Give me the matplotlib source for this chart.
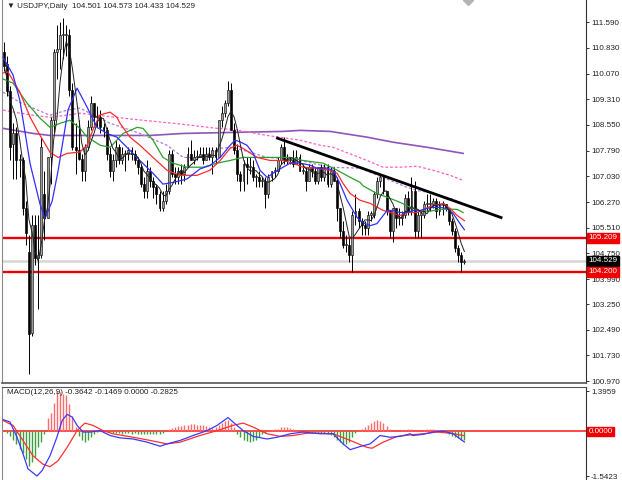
import matplotlib
matplotlib.use('Agg')
import numpy as np
import pandas as pd
import matplotlib.pyplot as plt
import matplotlib.transforms as mtrans

plt.rcParams['font.family'] = ['Liberation Sans', 'DejaVu Sans']

# daily bars, USDJPY
opens = [110.70, 110.35, 109.55, 108.00, 108.30, 107.50, 107.50, 106.10, 104.80, 102.40,
         105.60, 104.60, 104.70, 106.50, 105.80, 107.60, 108.70, 110.70, 110.80, 111.20,
         111.20, 111.20, 109.60, 107.90, 107.80, 107.55, 107.20, 107.90, 108.50, 109.20,
         108.80, 108.80, 108.50, 108.40, 107.70, 107.20, 107.50, 107.90, 107.50, 107.70,
         107.70, 107.80, 107.70, 107.50, 107.30, 106.80, 106.60, 107.20, 106.90, 106.70,
         106.50, 106.10, 106.30, 106.60, 107.70, 107.10, 107.00, 107.20, 107.10, 107.30,
         107.70, 107.50, 107.60, 107.60, 107.70, 107.50, 107.70, 107.60, 107.80, 107.60,
         108.70, 108.90, 109.20, 109.60, 108.40, 107.80, 107.10, 106.90, 107.40, 107.30,
         107.30, 107.00, 107.00, 106.90, 106.90, 106.50, 107.00, 107.20, 107.20, 107.50,
         107.90, 107.50, 107.50, 107.50, 107.40, 107.60, 107.20, 107.20, 106.90, 107.30,
         107.20, 106.90, 107.30, 107.00, 107.30, 106.80, 107.20, 106.90, 106.10, 105.40,
         105.00, 105.00, 104.70, 105.90, 106.00, 105.70, 105.60, 105.50, 105.90, 105.90,
         106.50, 106.90, 107.00, 106.60, 106.00, 105.40, 106.10, 105.80, 105.80, 105.90,
         106.40, 106.00, 106.60, 105.40, 105.90, 105.90, 106.20, 106.20, 106.20, 106.30,
         106.00, 106.20, 106.20, 106.10, 105.70, 105.40, 104.90, 104.70, 104.501]
highs = [111.00, 110.60, 109.70, 108.60, 108.50, 107.70, 107.60, 106.30, 105.30, 105.90,
         105.90, 105.90, 108.20, 107.20, 107.60, 108.80, 110.80, 111.50, 111.60, 111.71,
         111.50, 111.40, 109.80, 108.60, 108.70, 107.70, 108.00, 108.70, 109.40, 109.20,
         109.10, 109.00, 108.60, 108.50, 107.90, 107.70, 108.10, 108.00, 107.90, 107.80,
         107.90, 107.90, 107.80, 107.60, 107.40, 107.00, 107.50, 107.30, 107.00, 106.80,
         106.60, 106.60, 106.80, 107.80, 107.80, 107.30, 107.30, 107.40, 107.40, 107.90,
         108.10, 107.80, 107.80, 107.90, 107.90, 107.90, 107.90, 107.90, 107.90, 108.70,
         109.10, 109.30, 109.85, 109.80, 108.60, 108.00, 107.20, 107.50, 107.60, 107.60,
         107.50, 107.10, 107.20, 107.00, 107.00, 107.10, 107.20, 107.30, 107.60, 108.00,
         108.20, 107.70, 107.60, 107.80, 107.80, 107.70, 107.40, 107.30, 107.40, 107.40,
         107.30, 107.30, 107.40, 107.40, 107.40, 107.30, 107.30, 107.00, 106.10, 105.70,
         105.30, 105.20, 106.00, 106.50, 106.10, 105.80, 105.70, 106.00, 106.00, 106.60,
         107.00, 107.10, 107.00, 106.60, 106.00, 106.10, 106.10, 106.10, 106.00, 106.50,
         106.60, 107.00, 106.90, 106.00, 106.00, 106.30, 106.50, 106.50, 106.40, 106.40,
         106.30, 106.30, 106.20, 106.10, 105.80, 105.50, 105.00, 104.80, 104.573]
lows = [110.15, 109.40, 107.50, 106.95, 106.95, 107.00, 105.90, 105.00, 101.18, 102.30,
        104.40, 103.10, 104.60, 105.15, 105.80, 106.80, 108.30, 109.90, 110.20, 110.50,
        110.60, 109.40, 107.80, 107.10, 107.50, 106.90, 106.90, 107.80, 108.40, 108.50,
        108.50, 108.30, 108.20, 107.50, 107.00, 106.90, 107.30, 107.40, 107.40, 107.20,
        107.50, 107.50, 107.40, 107.10, 106.70, 106.40, 106.40, 106.70, 106.40, 106.20,
        105.99, 106.00, 106.20, 106.50, 107.00, 106.80, 106.80, 106.80, 106.90, 107.30,
        107.50, 107.40, 107.50, 107.60, 107.40, 107.50, 107.50, 107.10, 107.40, 107.60,
        108.50, 108.80, 109.10, 108.40, 107.70, 106.90, 106.60, 106.60, 106.80, 107.10,
        106.90, 106.70, 106.70, 106.70, 106.10, 106.40, 106.90, 107.00, 107.20, 107.40,
        107.40, 107.40, 107.40, 107.30, 107.40, 107.20, 107.10, 106.60, 106.90, 107.00,
        106.80, 106.80, 106.90, 106.90, 106.70, 106.70, 106.90, 105.70, 105.20, 104.90,
        104.80, 104.50, 104.19, 105.60, 105.50, 105.30, 105.30, 105.30, 105.70, 105.80,
        106.40, 106.70, 106.50, 105.90, 105.20, 105.10, 105.50, 105.60, 105.60, 105.80,
        105.90, 105.90, 105.20, 105.20, 105.20, 105.80, 106.00, 106.00, 106.10, 105.80,
        105.90, 105.90, 106.00, 105.60, 105.30, 104.80, 104.50, 104.20, 104.433]
closes = [110.30, 109.55, 107.90, 108.30, 107.50, 107.50, 106.10, 105.35, 102.35, 105.60,
          104.60, 104.70, 107.90, 105.80, 107.60, 108.70, 110.70, 110.80, 111.20, 111.20,
          111.20, 109.60, 107.90, 107.80, 107.55, 107.20, 107.90, 108.50, 109.20, 108.80,
          108.80, 108.50, 108.40, 107.70, 107.20, 107.50, 107.90, 107.50, 107.70, 107.70,
          107.80, 107.70, 107.50, 107.30, 106.80, 106.60, 107.20, 106.90, 106.70, 106.50,
          106.10, 106.30, 106.60, 107.70, 107.10, 107.00, 107.20, 107.10, 107.30, 107.70,
          107.50, 107.60, 107.60, 107.70, 107.50, 107.70, 107.60, 107.80, 107.60, 108.70,
          108.90, 109.20, 109.60, 108.40, 107.80, 107.10, 106.90, 107.40, 107.30, 107.30,
          107.00, 107.00, 106.90, 106.90, 106.50, 107.00, 107.20, 107.20, 107.50, 107.90,
          107.50, 107.50, 107.50, 107.40, 107.60, 107.20, 107.20, 106.90, 107.30, 107.20,
          106.90, 107.30, 107.00, 107.30, 106.80, 107.20, 106.90, 106.10, 105.40, 105.00,
          105.00, 104.70, 105.90, 106.00, 105.70, 105.60, 105.50, 105.90, 105.90, 106.50,
          106.90, 107.00, 106.60, 106.00, 105.40, 106.10, 105.80, 105.80, 105.90, 106.40,
          106.00, 106.60, 105.40, 105.90, 105.90, 106.20, 106.20, 106.20, 106.30, 106.00,
          106.20, 106.20, 106.10, 105.70, 105.40, 104.90, 104.70, 104.50, 104.529]

# moving averages as drawn (bar index, price)
blue_x = [-0.3, 2.9, 5.1, 8.4, 11.6, 13.2, 15.5, 17.4, 20.6, 23.5, 26.7, 29.9, 33.1, 36.3, 39.5,
          43.7, 47.9, 51.1, 54.3, 58.8, 63.0, 66.2, 69.5, 72.7, 74.3, 75.9, 78.1, 80.1, 82.3,
          84.6, 86.5, 89.7, 92.0, 95.2, 98.4, 100.6, 103.9, 105.8, 108.0, 110.3, 112.2, 113.5,
          115.4, 117.7, 119.9, 121.9, 123.2, 125.1, 127.3, 129.6, 131.5, 133.8, 136.0, 137.9,
          140.2, 142.4, 144.4, 146.6, 148.0]
blue_y = [110.56, 110.03, 109.28, 107.40, 106.20, 105.78, 106.30, 107.20, 109.00, 109.64, 109.08,
          108.48, 108.30, 108.19, 107.89, 107.50, 107.12, 106.80, 106.85, 106.95, 107.25, 107.35,
          107.59, 107.95, 108.10, 108.05, 107.95, 107.71, 107.21, 107.00, 107.12, 107.30, 107.42,
          107.42, 107.36, 107.27, 107.27, 107.21, 106.82, 106.32, 106.02, 105.81, 105.66, 105.57,
          105.63, 105.87, 106.02, 106.02, 105.96, 105.96, 106.02, 106.02, 106.08, 106.11, 106.11,
          106.08, 105.93, 105.63, 105.45]
red_x = [-0.3, 1.3, 5.1, 8.4, 11.6, 14.8, 17.4, 20.3, 24.4, 26.7, 29.0, 30.9, 34.1, 36.3, 37.3,
         40.5, 43.7, 47.9, 52.4, 56.6, 62.1, 66.2, 69.5, 72.7, 74.9, 76.8, 81.4, 85.5, 89.7, 92.9,
         96.1, 100.6, 104.8, 107.1, 109.0, 111.3, 114.5, 117.7, 121.9, 127.3, 129.6, 132.8, 137.0,
         141.2, 143.4, 145.7, 148.0]
red_y = [110.09, 110.12, 109.52, 108.78, 108.24, 107.74, 107.59, 107.71, 107.75, 107.95, 108.50,
         108.85, 108.93, 108.78, 108.60, 108.19, 107.95, 107.59, 107.21, 107.06, 107.06, 107.21,
         107.50, 107.86, 107.95, 107.86, 107.59, 107.50, 107.50, 107.42, 107.30, 107.27, 107.21,
         107.12, 106.82, 106.52, 106.32, 106.23, 106.02, 105.87, 105.96, 105.96, 106.14, 106.23,
         106.08, 105.87, 105.72]
green_x = [-0.3, 2.9, 7.4, 11.6, 14.8, 18.0, 21.2, 24.4, 26.7, 30.9, 34.1, 38.3, 42.8, 44.7, 47.9,
           51.1, 54.3, 58.8, 64.0, 68.5, 72.7, 76.8, 81.4, 86.5, 92.0, 96.1, 102.6, 107.1, 111.3,
           114.5, 115.4, 119.9, 124.1, 127.3, 130.5, 133.8, 137.0, 140.2, 143.4, 145.7, 147.6]
green_y = [109.91, 109.79, 109.20, 108.75, 108.48, 108.60, 108.69, 108.45, 108.20, 107.95, 107.89,
           108.30, 108.48, 108.45, 108.10, 107.59, 107.42, 107.30, 107.30, 107.42, 107.50, 107.59,
           107.59, 107.59, 107.59, 107.50, 107.42, 107.21, 107.00, 106.85, 106.75, 106.52, 106.38,
           106.26, 106.12, 106.00, 106.00, 106.05, 106.06, 106.05, 105.96]
violet_x = [-0.3, 5.1, 9.3, 14.8, 20.3, 24.4, 34.1, 43.7, 52.4, 57.6, 63.0, 69.5, 73.6, 79.1, 84.6,
            89.7, 95.2, 104.8, 114.5, 117.7, 124.1, 128.9, 132.8, 137.0, 143.4, 147.6]
violet_y = [109.52, 109.22, 109.05, 108.84, 108.99, 109.05, 108.60, 108.30, 107.95, 107.59, 107.59,
            107.86, 107.89, 107.74, 107.59, 107.56, 107.50, 107.30, 107.27, 107.15, 106.91, 106.73,
            106.61, 106.55, 106.38, 106.23]
pink_x = [-0.3, 5.1, 9.3, 14.8, 20.3, 24.4, 41.5, 57.6, 68.5, 73.6, 84.6, 95.2, 101.6, 105.8, 116.7,
          121.9, 127.3, 132.8, 137.9, 143.4, 147.6]
pink_y = [108.99, 108.90, 108.84, 108.78, 108.84, 108.90, 108.72, 108.57, 108.45, 108.42, 108.24,
          108.10, 107.95, 107.89, 107.50, 107.30, 107.30, 107.33, 107.21, 107.06, 106.91]
purple_x = [-0.3, 9.3, 14.8, 30.9, 46.9, 57.6, 73.6, 89.7, 95.2, 104.8, 116.7, 125.1, 136.0, 147.6]
purple_y = [108.45, 108.30, 108.24, 108.24, 108.24, 108.30, 108.33, 108.36, 108.39, 108.36, 108.19,
            108.04, 107.89, 107.71]

trend_x = [87.9, 159.8]
trend_y = [108.16, 105.81]
levels = [105.209, 104.200]
last_price = 104.529
price_ticks = [111.59, 110.83, 110.07, 109.31, 108.55, 107.79, 107.03, 106.27, 105.51, 104.75,
               103.99, 103.25, 102.49, 101.73, 100.97]

# MACD(12,26,9)
macd_x = [-0.3, 1.9, 4.2, 6.1, 7.7, 10.6, 12.2, 14.8, 17.0, 18.7, 20.3, 21.9, 23.5, 25.4, 27.7,
          30.9, 34.1, 37.3, 41.5, 46.0, 50.2, 52.4, 56.6, 60.8, 65.3, 68.5, 72.0, 73.6, 76.9,
          80.1, 84.6, 87.8, 92.0, 96.1, 101.6, 105.8, 109.0, 111.3, 114.5, 117.7, 120.9, 124.1,
          127.3, 130.6, 131.5, 134.7, 137.9, 141.2, 144.4, 148.0]
macd_y = [0.41, 0.33, -0.20, -0.77, -1.29, -1.54, -1.36, -0.84, -0.20, 0.38, 0.59, 0.50, 0.21,
          -0.02, -0.02, 0.03, -0.14, -0.22, -0.26, -0.37, -0.51, -0.43, -0.31, -0.14, 0.03, 0.21,
          0.48, 0.33, 0.03, -0.17, -0.26, -0.20, -0.08, -0.02, -0.08, -0.08, -0.43, -0.63, -0.52,
          -0.43, -0.14, -0.20, -0.17, -0.08, -0.14, -0.10, -0.02, 0.01, -0.08, -0.3642]
signal_x = [-0.3, 2.9, 6.1, 9.3, 12.5, 14.8, 17.4, 20.3, 23.5, 26.0, 28.6, 31.8, 35.0, 41.5, 47.0,
            52.4, 56.6, 63.0, 68.5, 73.6, 76.9, 80.1, 84.6, 88.8, 92.9, 97.4, 101.6, 105.8, 111.3,
            116.7, 118.3, 121.9, 126.4, 130.6, 134.7, 139.2, 143.4, 148.0]
signal_y = [0.38, 0.21, -0.31, -0.84, -1.13, -1.22, -1.01, -0.55, 0.03, 0.29, 0.21, 0.03, -0.08,
            -0.20, -0.31, -0.43, -0.37, -0.14, 0.03, 0.21, 0.29, 0.15, -0.08, -0.17, -0.14, -0.06,
            -0.06, -0.08, -0.31, -0.55, -0.58, -0.37, -0.17, -0.12, -0.08, -0.02, -0.06, -0.1469]
hist = [0.02, -0.05, -0.15, -0.30, -0.45, -0.60, -0.75, -0.95, -1.20, -1.05,
        -0.90, -0.55, -0.38, -0.10, 0.45, 0.65, 1.00, 1.39, 1.35, 1.30,
        1.25, 0.95, 0.55, 0.15, -0.15, -0.30, -0.36, -0.30, -0.20, -0.10,
        -0.03, 0.03, 0.04, 0.02, -0.03, -0.05, -0.06, -0.07, -0.08, -0.06,
        -0.07, -0.08, -0.06, -0.08, -0.10, -0.10, -0.08, -0.09, -0.10, -0.10,
        -0.08, -0.05, 0.03, 0.10, 0.12, 0.15, 0.18, 0.20, 0.22, 0.24,
        0.25, 0.25, 0.24, 0.24, 0.22, 0.18, 0.15, 0.13, 0.15, 0.22,
        0.30, 0.35, 0.38, 0.30, 0.15, -0.10, -0.20, -0.28, -0.32, -0.36,
        -0.34, -0.28, -0.20, -0.10, -0.04, 0.02, 0.05, 0.08, 0.10, 0.14,
        0.15, 0.14, 0.12, 0.08, 0.05, 0.02, -0.02, -0.04, -0.03, -0.04,
        -0.05, -0.04, -0.05, -0.06, -0.08, -0.12, -0.20, -0.28, -0.36, -0.42,
        -0.43, -0.35, -0.20, -0.05, 0.05, 0.10, 0.15, 0.22, 0.30, 0.36,
        0.38, 0.36, 0.30, 0.18, 0.08, 0.03, 0.01, 0.02, 0.04, 0.06,
        0.08, 0.10, 0.03, 0.02, 0.03, 0.05, 0.07, 0.08, 0.07, 0.06,
        0.05, 0.04, -0.02, -0.08, -0.14, -0.19, -0.24, -0.28, -0.2825]

W, H = 622, 480


def px_rect(x0, y0, x1, y1):
    return [x0 / W, 1 - y1 / H, (x1 - x0) / W, (y1 - y0) / H]


def side_box(axis, y, text, color):
    tr = mtrans.blended_transform_factory(axis.transAxes, axis.transData)
    axis.text(1.004, y, text, transform=tr, va='center', ha='left', color='white',
              fontsize=5.8, clip_on=False, zorder=10,
              bbox=dict(boxstyle='square,pad=0.18', fc=color, ec=color))


def style_axis(axis):
    axis.set_xticks([])
    axis.yaxis.tick_right()
    axis.tick_params(axis='y', direction='out', length=2.5, width=0.7, pad=1.2,
                     labelsize=5.8, colors='#333333', labelcolor='#222222')
    axis.spines['left'].set_color('#8a8a8a')
    axis.spines['right'].set_color('#333333')


def draw_price(ax):
    o, h, l, c = map(np.array, (opens, highs, lows, closes))
    idx = np.arange(len(c))
    up = c >= o
    ax.axhline(last_price, color='#d6d6d6', lw=1.8, zorder=1)
    for lv in levels:
        ax.axhline(lv, color='#f00000', lw=1.7, zorder=2)

    ax.plot(purple_x, purple_y, color='#8f55b8', lw=1.2, zorder=2)
    ax.plot(pink_x, pink_y, color='#ff5fc8', lw=0.9, ls=(0, (2.2, 1.6)), zorder=2)
    ax.plot(violet_x, violet_y, color='#b27ad6', lw=0.9, ls=(0, (2.2, 1.6)), zorder=2)

    ax.vlines(idx, l, h, color='black', lw=0.7, zorder=3)
    body = np.maximum(np.abs(c - o), 0.03)
    bottom = np.minimum(o, c)
    ax.bar(idx[up], body[up], bottom=bottom[up], width=0.62, color='#9c9c9c',
           edgecolor='#111111', lw=0.45, zorder=4)
    ax.bar(idx[~up], body[~up], bottom=bottom[~up], width=0.62, color='black',
           edgecolor='black', lw=0.45, zorder=4)

    ax.plot(green_x, green_y, color='#2e9e2e', lw=0.9, zorder=5)
    ax.plot(red_x, red_y, color='#ff2b2b', lw=0.9, zorder=5)
    ax.plot(blue_x, blue_y, color='#3030ff', lw=0.9, zorder=5)
    sma = pd.Series(closes).rolling(5, min_periods=1).mean()
    ax.plot(idx, sma, color='#222222', lw=0.7, zorder=5)
    ax.plot(trend_x, trend_y, color='black', lw=2.0, zorder=6)

    ax.set_xlim(-0.64, 187.1)
    ax.set_ylim(100.912, 112.25)
    style_axis(ax)
    ax.set_yticks(price_ticks)
    ax.set_yticklabels(['%.3f' % t for t in price_ticks])
    ax.spines['top'].set_visible(False)
    ax.spines['bottom'].set_color('#555555')
    ax.spines['bottom'].set_linewidth(1.2)

    side_box(ax, levels[0], '%.3f' % levels[0], '#f00000')
    side_box(ax, last_price, '%.3f' % last_price, 'black')
    side_box(ax, levels[1], '%.3f' % levels[1], '#f00000')
    # chart shift marker at the top edge
    ax.plot([149.2], [112.25], marker='D', color='#b4b4b4', ms=5, zorder=8)


def draw_macd(mx):
    idx = np.arange(len(hist))
    hv = np.array(hist)
    cols = np.where(hv > 0, '#ff6a6a', '#3f9f3f')
    mx.axhline(0, color='#ff3a3a', lw=1.3, zorder=1)
    mx.vlines(idx, 0, hv, colors=cols, lw=1.0, zorder=2)
    mx.plot(signal_x, signal_y, color='#ff3030', lw=0.9, zorder=3)
    mx.plot(macd_x, macd_y, color='#3a3aff', lw=0.9, zorder=4)
    mx.set_xlim(-0.64, 187.1)
    mx.set_ylim(-1.713, 1.538)
    style_axis(mx)
    mx.set_yticks([1.3959, -1.5423])
    mx.set_yticklabels(['1.3959', '-1.5423'])
    mx.spines['bottom'].set_visible(False)
    mx.spines['top'].set_color('#555555')
    side_box(mx, 0.0, '0.0000', '#f00000')


def main():
    fig = plt.figure(figsize=(W / 100, H / 100), dpi=100)
    ax = fig.add_axes(px_rect(2, 0, 586, 383))
    mx = fig.add_axes(px_rect(2, 387, 586, 481))
    draw_price(ax)
    draw_macd(mx)
    fig.text(7 / W, 1 - 6 / H, '\u25bc USDJPY,Daily  104.501 104.573 104.433 104.529',
             fontsize=5.8, va='center', ha='left', color='#222222')
    fig.text(7 / W, 1 - 393 / H, 'MACD(12,26,9) -0.3642 -0.1469 0.0000 -0.2825',
             fontsize=5.8, va='center', ha='left', color='#222222')
    fig.savefig('out.png', dpi=100)


if __name__ == '__main__':
    main()
